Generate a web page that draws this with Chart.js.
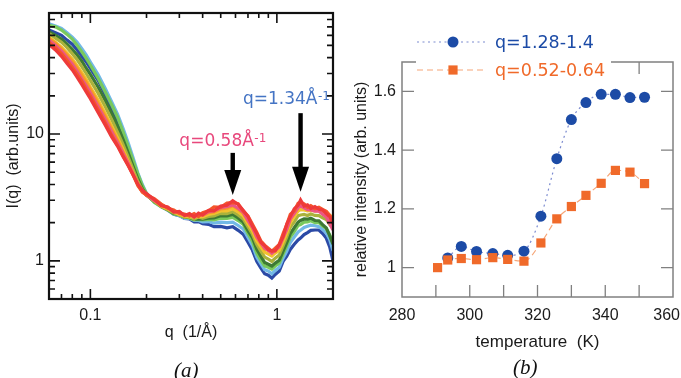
<!DOCTYPE html>
<html><head><meta charset="utf-8">
<script src="https://cdn.jsdelivr.net/npm/chart.js@4.4.1/dist/chart.umd.min.js"></script>
<style>
html,body{margin:0;padding:0;background:#fff;}
#wrap{position:relative;width:681px;height:378px;overflow:hidden;background:#fff;}
.pane{position:absolute;top:0;height:378px;}
.lab{position:absolute;font-family:"Liberation Serif","DejaVu Serif",serif;font-style:italic;font-size:21px;color:#111;line-height:1;}
</style></head>
<body><div id="wrap">
<div class="pane" style="left:0;width:340px"><canvas id="c1" width="340" height="378"></canvas></div>
<div class="pane" style="left:340px;width:341px"><canvas id="c2" width="341" height="378"></canvas></div>
<div class="lab" style="left:174px;top:360px">(a)</div>
<div class="lab" style="left:513px;top:357px">(b)</div>
</div>
<script>
// ---------- Panel (a) data ----------
const qGrid = [0.06,0.065,0.07,0.075,0.08,0.085,0.09,0.095,0.1,0.11,0.12,0.13,0.14,0.15,0.16,0.17,0.18,0.19,0.2,
  0.22,0.24,0.26,0.28,0.3,0.32,0.34,0.36,0.38,0.4,0.43,0.46,0.5,0.54,0.58,0.62,0.66,0.7,0.74,0.78,0.82,0.86,0.9,0.94,0.98,
  1.03,1.08,1.13,1.18,1.24,1.3,1.34,1.4,1.46,1.52,1.6,1.68,1.76,1.84,1.92,2.0];
const curveRed = [51,46,41,36,32,28,24.5,21.5,19,14.8,11.8,9.5,8.0,6.6,5.6,4.7,4.0,3.6,3.4,
  3.05,2.72,2.66,2.42,2.45,2.28,2.36,2.22,2.38,2.3,2.5,2.48,2.7,2.74,2.98,2.78,2.5,2.24,1.88,1.64,1.4,1.32,1.22,1.2,1.2,1.34,1.55,1.95,2.22,2.58,2.74,3.02,2.7,2.76,2.58,2.68,2.55,2.52,2.36,2.22,1.95];
const curveRedOrange = [53,48,43,38,33.5,29.5,26,22.5,20,15.5,12.3,9.8,8.1,6.7,5.6,4.7,3.9,3.5,3.3,
  3.1,2.8,2.6,2.52,2.36,2.34,2.26,2.36,2.24,2.4,2.48,2.66,2.64,2.86,2.88,2.82,2.46,2.26,1.94,1.68,1.44,1.33,1.26,1.19,1.26,1.35,1.64,1.93,2.32,2.48,2.84,2.9,2.82,2.64,2.72,2.58,2.64,2.54,2.46,2.28,2.1];
const curvePink = [55,50,45,40,35.5,31,27,24,21,16.5,13,10.4,8.5,7.0,5.8,4.8,4.0,3.5,3.3,
  3.0,2.76,2.62,2.44,2.42,2.28,2.32,2.22,2.3,2.3,2.44,2.48,2.62,2.68,2.76,2.6,2.42,2.08,1.84,1.54,1.4,1.26,1.21,1.15,1.21,1.29,1.53,1.78,2.14,2.38,2.64,2.7,2.62,2.53,2.52,2.46,2.46,2.33,2.22,1.98,1.75];
const curveOrange = [57,52,47,42,37.5,33,29,25.5,22.5,17.5,13.8,11,8.9,7.2,5.9,4.8,4.0,3.5,3.3,
  3.0,2.74,2.64,2.46,2.38,2.3,2.27,2.28,2.28,2.28,2.4,2.43,2.57,2.6,2.72,2.56,2.38,2.06,1.82,1.53,1.37,1.24,1.21,1.16,1.23,1.29,1.52,1.78,2.12,2.36,2.62,2.73,2.68,2.58,2.62,2.56,2.57,2.48,2.44,2.28,2.15];
const curveGold = [58,53,48.5,43.5,39,34.5,30.5,27,23.5,18.5,14.5,11.5,9.3,7.5,6.0,4.9,4.0,3.5,3.3,
  3.0,2.7,2.57,2.43,2.32,2.26,2.22,2.23,2.22,2.23,2.32,2.36,2.47,2.48,2.57,2.43,2.27,1.96,1.72,1.44,1.29,1.17,1.13,1.09,1.15,1.21,1.41,1.66,2.0,2.23,2.47,2.53,2.52,2.48,2.5,2.48,2.47,2.43,2.42,2.28,2.2];
const curveOlive = [62,57,53,48,43,38.5,34,30,26.5,21,16.5,13,10.3,8.2,6.5,5.2,4.2,3.6,3.3,
  2.95,2.68,2.52,2.38,2.3,2.2,2.22,2.13,2.22,2.16,2.24,2.26,2.37,2.36,2.44,2.3,2.14,1.86,1.62,1.35,1.19,1.07,1.03,0.99,1.05,1.11,1.31,1.54,1.84,2.03,2.27,2.3,2.32,2.28,2.34,2.28,2.27,2.18,2.12,1.93,1.8];
const curveDarkGreen = [64,60,56,51,46.5,42,37.5,33,29.5,23.5,18.5,14.5,11.5,9.0,7.0,5.5,4.4,3.7,3.3,
  2.95,2.7,2.52,2.36,2.32,2.2,2.2,2.13,2.14,2.13,2.17,2.18,2.27,2.26,2.32,2.18,2.02,1.73,1.52,1.24,1.09,0.97,0.94,0.91,0.96,1.01,1.19,1.39,1.64,1.83,2.02,2.08,2.14,2.13,2.17,2.08,2.07,1.93,1.82,1.58,1.35];
const curveLightGreen = [72,70,66,61,56,50,44.5,39.5,35,27.5,21.5,17,13.5,10.3,7.9,6.1,4.8,3.9,3.4,
  2.9,2.68,2.54,2.34,2.3,2.23,2.17,2.1,2.12,2.1,2.12,2.1,2.17,2.16,2.2,2.08,1.94,1.64,1.42,1.15,1.01,0.91,0.89,0.86,0.91,0.96,1.13,1.31,1.54,1.7,1.9,1.93,2.02,2.03,2.07,2.0,2.0,1.88,1.8,1.6,1.38];
const curveLightBlue = [74,71,68,63,58,53,47,42,37,29.5,23,18,14.3,11,8.4,6.4,4.9,4.0,3.4,
  2.9,2.66,2.5,2.34,2.27,2.16,2.16,2.08,2.08,2.03,2.04,1.98,2.02,2.0,2.02,1.9,1.78,1.53,1.32,1.07,0.95,0.85,0.83,0.79,0.84,0.89,1.05,1.19,1.39,1.54,1.69,1.74,1.83,1.87,1.91,1.89,1.86,1.77,1.66,1.47,1.2];
const curveNavy = [66,63,60,55,51,46,41,37,33,26.5,20.5,16,12.5,9.8,7.6,5.9,4.6,3.8,3.3,
  2.95,2.68,2.52,2.33,2.27,2.16,2.14,2.03,2.04,1.96,1.94,1.86,1.87,1.82,1.86,1.74,1.62,1.4,1.21,0.99,0.88,0.79,0.77,0.73,0.78,0.83,0.99,1.09,1.23,1.35,1.46,1.51,1.61,1.67,1.74,1.75,1.75,1.64,1.51,1.29,1.0];
const xLabelsA = [0.1, 1];
const yLabelsA = [1, 10];
const xMinorA = [0.06,0.07,0.08,0.09,0.2,0.3,0.4,0.5,0.6,0.7,0.8,0.9,2];
const yMinorA = [0.5,0.6,0.7,0.8,0.9,2,3,4,5,6,7,8,9,20,30,40,50,60,70,80,90];
const arrowsA = [{q:0.58, from:7.1, to:3.3}, {q:1.34, from:14.6, to:3.5}];
const notesA = [{q:0.30, I:8.06, text:'q=0.58Å', sup:'-1'}, {q:0.658, I:17.2, text:'q=1.34Å', sup:'-1'}];

// ---------- Panel (b) data ----------
const tempBlue = [293.5,297.5,302,306.8,311.2,316,321,325.7,330,334.3,338.8,343,347.3,351.6];
const relBlue = [1.033,1.072,1.055,1.048,1.042,1.056,1.175,1.371,1.504,1.562,1.59,1.59,1.579,1.58];
const tempOrange = [290.5,293.5,297.5,302,306.8,311.2,316,321,325.7,330,334.3,338.8,343,347.3,351.6];
const relOrange = [1.0,1.026,1.031,1.027,1.034,1.028,1.022,1.084,1.166,1.208,1.246,1.287,1.331,1.325,1.286];
const xLabelsB = [280,300,320,340,360];
const xMarksB = [290,300,310,320,330,340,350];
const yLabelsB = [1,1.2,1.4,1.6];
const legendB = ['q=1.28-1.4','q=0.52-0.64'];

Chart.defaults.font.family = '"Liberation Sans", Arial, Helvetica, sans-serif';
Chart.defaults.color = '#1a1a1a';

function tickPlugin(cfg){
  return {
    id:'ticks_'+cfg.name,
    afterDatasetsDraw(chart){
      const {ctx, chartArea:a, scales:{x,y}} = chart;
      ctx.save();
      ctx.strokeStyle = cfg.color; ctx.lineWidth = cfg.tickWidth;
      ctx.beginPath();
      cfg.xTicks.forEach(t=>{ const px = x.getPixelForValue(t.v);
        ctx.moveTo(px, a.bottom); ctx.lineTo(px, a.bottom - t.len);
        ctx.moveTo(px, a.top); ctx.lineTo(px, a.top + t.len); });
      cfg.yTicks.forEach(t=>{ const py = y.getPixelForValue(t.v);
        ctx.moveTo(a.left, py); ctx.lineTo(a.left + t.len, py);
        ctx.moveTo(a.right, py); ctx.lineTo(a.right - t.len, py); });
      ctx.stroke();
      ctx.lineWidth = cfg.frameWidth;
      ctx.strokeRect(a.left, a.top, a.right - a.left, a.bottom - a.top);
      ctx.restore();
    }
  };
}

// ---------- Chart (a) ----------
const colorsA = ['#ee3a3a','#f4562a','#ec5585','#f7962a','#f2c12e','#a9b23c','#3d7a34','#79c95c','#72b8e6','#2b4aa6'];
const curvesA = [curveRed,curveRedOrange,curvePink,curveOrange,curveGold,curveOlive,curveDarkGreen,curveLightGreen,curveLightBlue,curveNavy];
const dsA = curvesA.map((c,i)=>({
  data: c.map((v,j)=>({x:qGrid[j], y:v})),
  borderColor: colorsA[i], borderWidth: 3.2, pointRadius: 0, tension: 0, fill:false
}));

const annotPluginA = {
  id:'annotA',
  afterDraw(chart){
    const {ctx, scales:{x,y}} = chart;
    ctx.save();
    ctx.fillStyle = '#000';
    arrowsA.forEach(ar=>{
      const px = x.getPixelForValue(ar.q);
      const y0 = y.getPixelForValue(ar.from), y1 = y.getPixelForValue(ar.to);
      const hl = 25, hw = 8.5;
      ctx.fillRect(px-2.2, y0, 4.4, (y1-hl)-y0+1);
      ctx.beginPath(); ctx.moveTo(px-hw, y1-hl); ctx.lineTo(px+hw, y1-hl); ctx.lineTo(px, y1); ctx.closePath(); ctx.fill();
    });
    const cols = ['#e8487c','#4474c4'];
    notesA.forEach((n,i)=>{
      const px = x.getPixelForValue(n.q), py = y.getPixelForValue(n.I);
      ctx.fillStyle = cols[i];
      ctx.textBaseline = 'alphabetic'; ctx.textAlign = 'left';
      ctx.font = '17px "DejaVu Sans", sans-serif';
      ctx.fillText(n.text, px, py);
      const w = ctx.measureText(n.text).width;
      ctx.font = '12px "DejaVu Sans", sans-serif';
      ctx.fillText(n.sup, px + w + 0.5, py - 4);
    });
    ctx.restore();
  }
};

new Chart(document.getElementById('c1'), {
  type:'line',
  data:{datasets: dsA},
  options:{
    responsive:false, animation:false, devicePixelRatio:1, events:[],
    layout:{padding:{left:0, right:7, top:13, bottom:0}},
    plugins:{legend:{display:false}, tooltip:{enabled:false}},
    scales:{
      x:{type:'logarithmic', min:0.06, max:2,
        grid:{display:false, drawTicks:false}, border:{display:false},
        ticks:{padding:7, autoSkip:false, maxRotation:0, font:{size:16}, color:'#1a1a1a', callback:v=>String(v)},
        afterBuildTicks:s=>{ s.ticks = xLabelsA.map(v=>({value:v})); },
        afterFit:s=>{ s.height = 79; s.paddingLeft = 0; s.paddingRight = 0; },
        title:{display:true, text:'q  (1/Å)', font:{size:16}, color:'#1a1a1a', padding:{top:0, bottom:36}}
      },
      y:{type:'logarithmic', min:0.5, max:90,
        grid:{display:false, drawTicks:false}, border:{display:false},
        ticks:{padding:5, autoSkip:false, font:{size:16}, color:'#1a1a1a', callback:v=>String(v)},
        afterBuildTicks:s=>{ s.ticks = yLabelsA.map(v=>({value:v})); },
        afterFit:s=>{ s.width = 49; s.paddingTop = 0; s.paddingBottom = 0; },
        title:{display:true, text:'I(q)  (arb.units)', font:{size:16}, color:'#1a1a1a', padding:{top:4, bottom:0}}
      }
    }
  },
  plugins:[tickPlugin({name:'a', color:'#111', tickWidth:1.6, frameWidth:2.2,
    xTicks: xLabelsA.map(v=>({v, len:10})).concat(xMinorA.map(v=>({v, len:5}))),
    yTicks: yLabelsA.map(v=>({v, len:11})).concat(yMinorA.map(v=>({v, len:6})))}), annotPluginA]
});

// ---------- Chart (b) ----------
const blueMark = '#1c4ba6', orangeMark = '#f06a2a';
const blueLine = '#7d8cd0', orangeLine = '#f6a678';
const lastLabelB = xLabelsB[xLabelsB.length-1];

const legendPluginB = {
  id:'legendB',
  afterDraw(chart){
    const {ctx, chartArea:a, scales:{x}} = chart;
    ctx.save();
    // last x tick label kept inside the canvas edge
    ctx.fillStyle = '#1a1a1a';
    ctx.font = '16px "Liberation Sans", Arial, sans-serif';
    ctx.textAlign = 'right'; ctx.textBaseline = 'middle';
    const lx = Math.min(x.getPixelForValue(lastLabelB) + 13, chart.width - 1);
    ctx.fillText(String(lastLabelB), lx, a.bottom + 19);
    ctx.fillStyle = '#fff';
    ctx.fillRect(a.left+14, a.top-3, 195, 22);
    const rows = [
      {y:a.top-20, line:blueLine, dash:[2,3.5], mark:blueMark, text:legendB[0], shape:'circle'},
      {y:a.top+8, line:orangeLine, dash:[6,4], mark:orangeMark, text:legendB[1], shape:'rect'}
    ];
    rows.forEach(r=>{
      ctx.strokeStyle = r.line; ctx.lineWidth = 1.2; ctx.setLineDash(r.dash);
      ctx.beginPath(); ctx.moveTo(a.left+15, r.y); ctx.lineTo(a.left+85, r.y); ctx.stroke();
      ctx.setLineDash([]);
      ctx.fillStyle = r.mark;
      if (r.shape==='circle'){ ctx.beginPath(); ctx.arc(a.left+51, r.y, 5.5, 0, Math.PI*2); ctx.fill(); }
      else { ctx.fillRect(a.left+51-4.6, r.y-4.6, 9.2, 9.2); }
      ctx.font = '17.5px "DejaVu Sans", sans-serif';
      ctx.textBaseline = 'middle'; ctx.textAlign = 'left';
      ctx.fillText(r.text, a.left+93, r.y+1);
    });
    ctx.restore();
  }
};

new Chart(document.getElementById('c2'), {
  type:'line',
  data:{datasets:[
    {label:legendB[0], data: tempBlue.map((t,i)=>({x:t, y:relBlue[i]})), order:1,
      borderColor:blueLine, borderWidth:1.2, borderDash:[2,3.5], cubicInterpolationMode:'monotone',
      pointStyle:'circle', pointRadius:5.5, pointBackgroundColor:blueMark, pointBorderWidth:0, fill:false},
    {label:legendB[1], data: tempOrange.map((t,i)=>({x:t, y:relOrange[i]})), order:0,
      borderColor:orangeLine, borderWidth:1.2, borderDash:[6,4], cubicInterpolationMode:'monotone',
      pointStyle:'rect', pointRadius:6.5, pointBackgroundColor:orangeMark, pointBorderWidth:0, fill:false}
  ]},
  options:{
    responsive:false, animation:false, devicePixelRatio:1, events:[],
    layout:{padding:{left:0, right:8, top:62, bottom:0}},
    plugins:{legend:{display:false}, tooltip:{enabled:false}},
    scales:{
      x:{type:'linear', min:280, max:360,
        grid:{display:false, drawTicks:false}, border:{display:false},
        ticks:{padding:9, autoSkip:false, maxRotation:0, font:{size:16}, color:'#1a1a1a',
          callback:v=>(v===lastLabelB ? '' : String(v))},
        afterBuildTicks:s=>{ s.ticks = xLabelsB.map(v=>({value:v})); },
        afterFit:s=>{ s.height = 81; s.paddingLeft = 0; s.paddingRight = 0; },
        title:{display:true, text:'temperature  (K)', font:{size:17}, color:'#1a1a1a', padding:{top:0, bottom:25}}
      },
      y:{type:'linear', min:0.9, max:1.7,
        grid:{display:false, drawTicks:false}, border:{display:false},
        ticks:{padding:6, autoSkip:false, font:{size:16}, color:'#1a1a1a', callback:v=>(v===1?'1':v.toFixed(1))},
        afterBuildTicks:s=>{ s.ticks = yLabelsB.map(v=>({value:v})); },
        afterFit:s=>{ s.width = 62; s.paddingTop = 0; s.paddingBottom = 0; },
        title:{display:true, text:'relative intensity (arb. units)', font:{size:16}, color:'#1a1a1a', padding:{top:12, bottom:0}}
      }
    }
  },
  plugins:[tickPlugin({name:'b', color:'#808080', tickWidth:1.3, frameWidth:1.5,
    xTicks: xMarksB.map(v=>({v, len:12})),
    yTicks: yLabelsB.map(v=>({v, len:12}))}), legendPluginB]
});
</script>
</body></html>
